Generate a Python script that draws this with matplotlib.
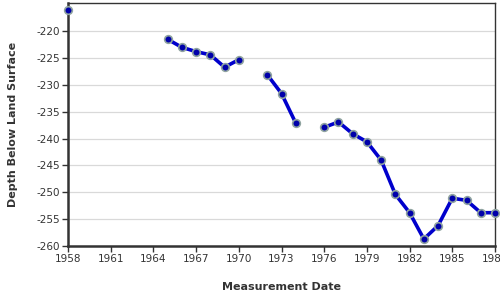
import numpy as np
import matplotlib
matplotlib.use("Agg")
import matplotlib.pyplot as plt

years = [1958, 1965, 1966, 1967, 1968, 1969, 1970, 1972, 1973, 1974,
         1976, 1977, 1978, 1979, 1980, 1981, 1982, 1983, 1984, 1985,
         1986, 1987, 1988]
depth = [-216.0, -221.5, -223.0, -223.8, -224.4, -226.7, -225.3, -228.1,
         -231.6, -237.1, -237.9, -236.9, -239.1, -240.6, -244.0, -250.4,
         -253.8, -258.7, -256.2, -251.1, -251.5, -253.8, -253.8]
# segments of continuous record (line breaks where years are missing)
segments = [(0, 1), (1, 7), (7, 10), (10, 23)]

xticks = list(range(1958, 1989, 3))
yticks = list(range(-260, -219, 5))

plt.rcParams['font.family'] = ['DejaVu Sans']
fig = plt.figure(figsize=(5, 3), dpi=100)
ax = fig.add_axes([0.136, 0.18, 0.854, 0.809])

for s, e in segments:
    ax.plot(years[s:e], depth[s:e], color='#0000cc', lw=2.6,
            solid_capstyle='round', zorder=3)
ax.plot(years, depth, ls='none', marker='o', ms=5.5, mfc='#0000aa',
        mec='#8fa3a0', mew=1.2, zorder=4, clip_on=False)

ax.set_xlim(1958, 1988)
ax.set_ylim(-260, -214.8)
ax.set_xticks(xticks)
ax.set_xticklabels([str(t) for t in xticks])
ax.set_yticks(yticks)
ax.set_yticklabels([str(t) for t in yticks])
ax.tick_params(axis='both', labelsize=7.5, colors='#333333', length=4,
               width=1, pad=2)
ax.grid(axis='y', color='#d9d9d9', lw=0.9)
ax.set_axisbelow(True)

for side in ['left', 'bottom']:
    ax.spines[side].set_linewidth(1.8)
    ax.spines[side].set_color('#333333')
for side in ['top', 'right']:
    ax.spines[side].set_linewidth(1.0)
    ax.spines[side].set_color('#333333')

ax.set_xlabel('Measurement Date', fontsize=8, fontweight='bold',
              color='#333333', labelpad=13)
ax.set_ylabel('Depth Below Land Surface', fontsize=8, fontweight='bold',
              color='#333333', labelpad=13)

fig.savefig('out.png', dpi=100)
